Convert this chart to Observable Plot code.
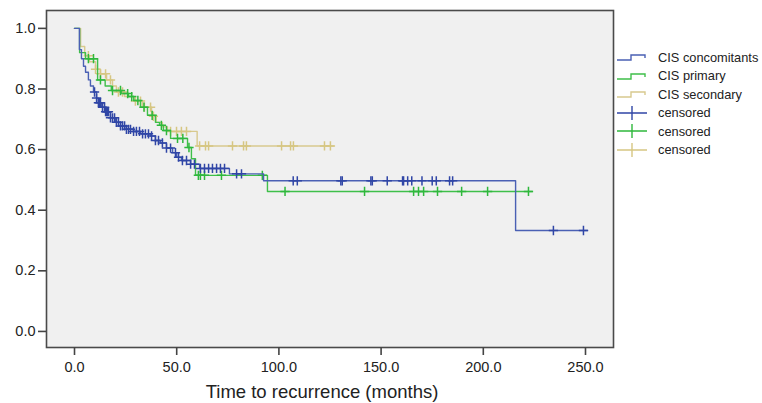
<!DOCTYPE html>
<html>
<head>
<meta charset="utf-8">
<script src="https://cdn.jsdelivr.net/npm/d3@7"></script>
<script src="https://cdn.jsdelivr.net/npm/@observablehq/plot@0.6"></script>
<style>
  body { margin: 0; background: #fff; font-family: "Liberation Sans", Arial, Helvetica, sans-serif; }
  #wrap { position: relative; width: 762px; height: 403px; }
  #legend { position: absolute; left: 615px; top: 48px; font-size: 12.8px; color: #222; }
  #legend .item { display: flex; align-items: center; height: 18.5px; }
  #legend svg { margin-right: 10px; }
</style>
</head>
<body>
<div id="wrap"><div id="chart"></div><div id="legend"></div></div>
<script>
// ---- Data ----
const seriesNames = ["CIS concomitants", "CIS primary", "CIS secondary"];
const xTicks = [0, 50, 100, 150, 200, 250];
const yTicks = [0, 0.2, 0.4, 0.6, 0.8, 1.0];

const blueTimes = [0, 2.4, 3.4, 4.4, 5.4, 6.8, 7.8, 9.3, 10.8, 11.7, 13.2, 15.2, 17.6, 20, 22.5, 25.4, 28.9, 32.3, 37.2, 39.6, 42, 45, 48, 50, 52.3, 56.8, 61.2, 75.8, 92.5, 215.8, 251];
const blueSurv  = [1, 0.93, 0.90, 0.875, 0.855, 0.83, 0.81, 0.79, 0.77, 0.755, 0.74, 0.725, 0.705, 0.69, 0.678, 0.667, 0.66, 0.652, 0.645, 0.63, 0.622, 0.605, 0.59, 0.575, 0.564, 0.552, 0.538, 0.52, 0.497, 0.333, 0.333];
const blueCens  = [9.8, 10.8, 11.7, 12.2, 12.7, 13.7, 14.7, 15.2, 15.7, 16.1, 16.6, 17.6, 18.6, 19.6, 20.5, 21.5, 22.5, 23.5, 24.5, 25.4, 26.4, 27.4, 28.9, 30.3, 31.8, 33.3, 34.7, 36.2, 37.7, 39.6, 41.1, 43, 45, 47, 49.4, 50.9, 52.8, 54.8, 56.8, 58.7, 61.6, 63.6, 65.6, 67.5, 69.5, 71.4, 73.4, 79.3, 81.7, 107, 109, 130.3, 131, 145, 145.7, 153, 160.5, 161, 163, 165, 170, 175, 177, 183.5, 185, 234.3, 249];

const greenTimes = [0, 2.5, 5.4, 11.3, 15, 18, 23, 26.4, 29, 32.3, 35.7, 39.6, 41.6, 43.5, 47, 55.3, 57.2, 59.2, 94.4, 224];
const greenSurv  = [1, 0.92, 0.90, 0.83, 0.81, 0.795, 0.785, 0.775, 0.762, 0.74, 0.713, 0.69, 0.68, 0.663, 0.637, 0.607, 0.57, 0.515, 0.462, 0.462];
const greenCens  = [6.8, 9.3, 12.7, 18.6, 22.5, 26, 28, 31, 34, 38, 42.5, 45, 50.4, 53, 56, 60.6, 61.6, 63.6, 71.9, 91.9, 103, 141.9, 165.9, 168.3, 170.8, 177.6, 189.4, 202.1, 222.1];

const tanTimes = [0, 3, 5, 7.3, 10.3, 12.7, 15.7, 18.6, 20.5, 24.5, 29, 33.3, 37.7, 40, 43, 45.5, 60, 126.7];
const tanSurv  = [1, 0.94, 0.91, 0.89, 0.865, 0.85, 0.83, 0.81, 0.79, 0.775, 0.76, 0.74, 0.71, 0.69, 0.675, 0.66, 0.612, 0.612];
const tanCens  = [6.8, 10.3, 12.7, 15.2, 17.6, 21.5, 23.5, 29.8, 32.3, 34.2, 37.2, 38.6, 47, 49.9, 52.3, 54.8, 61.2, 64.1, 65.6, 77.3, 82.7, 84.1, 101.3, 105.7, 107.1, 122.3, 125.2];

const colors = {
  blueLine: "#4a60b4", blueCens: "#3046a6",
  greenLine: "#3fbf4a", greenCens: "#2fb83c",
  tanLine: "#d8c98e", tanCens: "#d6c682"
};

// ---- Helpers ----
function steps(times, surv) { return times.map((t, i) => ({t, s: surv[i]})); }
function survAt(times, surv, t) {
  let s = surv[0];
  for (let i = 0; i < times.length; i++) if (times[i] <= t) s = surv[i];
  return s;
}
function cens(ct, times, surv) { return ct.map(t => ({t, s: survAt(times, surv, t)})); }

const blue = steps(blueTimes, blueSurv), green = steps(greenTimes, greenSurv), tan = steps(tanTimes, tanSurv);
const blueC = cens(blueCens, blueTimes, blueSurv), greenC = cens(greenCens, greenTimes, greenSurv), tanC = cens(tanCens, tanTimes, tanSurv);

const fmt = d3.format(".1f");
const R = 3.1;
const chart = Plot.plot({
  width: 620, height: 403,
  marginLeft: 46, marginRight: 7, marginTop: 10, marginBottom: 56,
  style: {fontFamily: "'Liberation Sans', Arial, Helvetica, sans-serif", fontSize: "14.5px", color: "#222", background: "#fff"},
  x: {domain: [-13.7, 263.7], label: null},
  y: {domain: [-0.053, 1.059], label: null},
  marks: [
    Plot.frame({fill: "#f0f0f0", stroke: null}),
    Plot.line(tan, {x: "t", y: "s", curve: "step-after", stroke: colors.tanLine, strokeWidth: 1.4}),
    Plot.dot(tanC, {x: "t", y: "s", symbol: "plus", r: R, stroke: colors.tanCens, strokeWidth: 1.5}),
    Plot.line(green, {x: "t", y: "s", curve: "step-after", stroke: colors.greenLine, strokeWidth: 1.4}),
    Plot.dot(greenC, {x: "t", y: "s", symbol: "plus", r: R, stroke: colors.greenCens, strokeWidth: 1.5}),
    Plot.line(blue, {x: "t", y: "s", curve: "step-after", stroke: colors.blueLine, strokeWidth: 1.4}),
    Plot.dot(blueC, {x: "t", y: "s", symbol: "plus", r: R, stroke: colors.blueCens, strokeWidth: 1.5}),
    Plot.frame({stroke: "#4a4a4a", strokeWidth: 1.6}),
    Plot.axisX({ticks: xTicks, tickFormat: fmt, tickSize: 8, tickPadding: 6, stroke: "#444", strokeWidth: 1.6, label: null}),
    Plot.axisY({ticks: yTicks, tickFormat: fmt, tickSize: 8, tickPadding: 3, stroke: "#444", strokeWidth: 1.6, label: null}),
    Plot.text(["Time to recurrence (months)"], {frameAnchor: "bottom", dy: 50, dx: -8, fontSize: 18.5, fill: "#222"})
  ]
});
document.getElementById("chart").appendChild(chart);

// ---- Legend ----
const legendItems = [
  {label: seriesNames[0], kind: "step", color: colors.blueLine},
  {label: seriesNames[1], kind: "step", color: colors.greenLine},
  {label: seriesNames[2], kind: "step", color: colors.tanLine},
  {label: "censored", kind: "cross", color: colors.blueCens},
  {label: "censored", kind: "cross", color: colors.greenCens},
  {label: "censored", kind: "cross", color: colors.tanCens}
];
const leg = d3.select("#legend");
for (const it of legendItems) {
  const row = leg.append("div").attr("class", "item");
  const svg = row.append("svg").attr("width", 33).attr("height", 18);
  if (it.kind === "step") {
    svg.append("path").attr("d", "M2,12H16V7H30V10").attr("fill", "none").attr("stroke", it.color).attr("stroke-width", 1.4);
  } else {
    svg.append("path").attr("d", "M2,9H32M17,2V16").attr("fill", "none").attr("stroke", it.color).attr("stroke-width", 1.4);
  }
  row.append("span").text(it.label);
}
</script>
</body>
</html>
